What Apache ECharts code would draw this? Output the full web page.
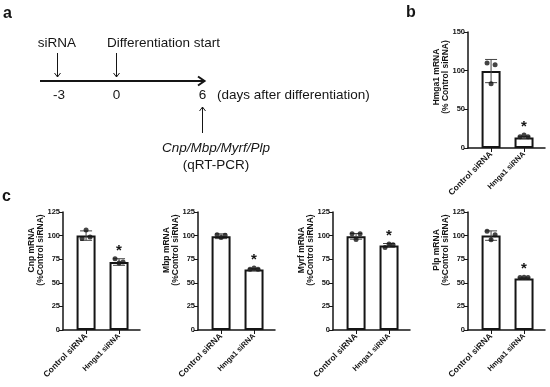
<!DOCTYPE html>
<html><head><meta charset="utf-8">
<script src="https://cdn.jsdelivr.net/npm/echarts@6/dist/echarts.min.js"></script>
<style>html,body{margin:0;padding:0;background:#fff}#chart{width:550px;height:387px}</style>
</head><body><div id="chart"></div>
<script>
// ---------- data ----------
const groups = ['Control siRNA', 'Hmga1 siRNA'];
const genes = ['Hmga1', 'Cnp', 'Mbp', 'Myrf', 'Plp'];
const yTitles = ['Hmga1 mRNA\n(% Control siRNA)', 'Cnp mRNA\n(%Control siRNA)', 'Mbp mRNA\n(%Control siRNA)', 'Myrf mRNA\n(%Control siRNA)', 'Plp mRNA\n(%Control siRNA)'];
const yTicksB = [0, 50, 100, 150];
const yTicksC = [0, 25, 50, 75, 100, 125];

const hmga1Mean = [99.5, 13.7];
const hmga1Sd = [15, 1.3];
const hmga1Dots = [[109.8, 83, 107.7], [14.5, 16.7, 14.5]];

const cnpMean = [100, 72];
const cnpSd = [5, 3.5];
const cnpDots = [[97, 106, 98.6], [75.5, 71, 72]];

const mbpMean = [99.3, 64];
const mbpSd = [2.5, 1];
const mbpDots = [[101, 98, 100.5], [64.3, 65.7, 64.3]];

const myrfMean = [99.2, 89.6];
const myrfSd = [3, 2];
const myrfDots = [[102, 96, 102], [87.5, 91, 90.4]];

const plpMean = [100, 54.6];
const plpSd = [5, 0.6];
const plpDots = [[104.6, 95.7, 101], [55.5, 56, 55.5]];

const significant = [false, true];

// ---------- layout / style ----------
const FONT = '"Liberation Sans", Arial, sans-serif';
const INK = '#151515';
const dotJitter = [-4, 0, 4];
const panels = [
  {mean: hmga1Mean, sd: hmga1Sd, dots: hmga1Dots, ticks: yTicksB, left: 468, top: 32, height: 116, titleDy: 45},
  {mean: cnpMean, sd: cnpSd, dots: cnpDots, ticks: yTicksC, left: 63, top: 212, height: 118, titleDy: 38},
  {mean: mbpMean, sd: mbpSd, dots: mbpDots, ticks: yTicksC, left: 198, top: 212, height: 118, titleDy: 38},
  {mean: myrfMean, sd: myrfSd, dots: myrfDots, ticks: yTicksC, left: 333, top: 212, height: 118, titleDy: 38},
  {mean: plpMean, sd: plpSd, dots: plpDots, ticks: yTicksC, left: 468, top: 212, height: 118, titleDy: 38}
];

const grid = [], xAxis = [], yAxis = [], series = [], graphic = [];

panels.forEach((p, i) => {
  grid.push({left: p.left, top: p.top, width: 77, height: p.height, containLabel: false});
  xAxis.push({
    gridIndex: i, type: 'value', min: -0.7, max: 1.636,
    axisLine: {show: true, onZero: false, lineStyle: {color: INK, width: 1.5}},
    axisTick: {show: true, customValues: [0, 1], length: 4, lineStyle: {color: INK, width: 1}},
    axisLabel: {show: true, customValues: [0, 1], rotate: 45, margin: 5,
      formatter: v => Math.round(v) === 0 ? '{a|' + groups[0] + '}' : '{b|' + groups[1] + '}',
      rich: {a: {fontSize: 8.5, fontWeight: 'bold', fontFamily: FONT, color: INK},
             b: {fontSize: 7.5, fontWeight: 'bold', fontFamily: FONT, color: INK}}},
    splitLine: {show: false}
  });
  const step = p.ticks[1] - p.ticks[0];
  yAxis.push({
    gridIndex: i, type: 'value', min: p.ticks[0], max: p.ticks[p.ticks.length - 1], interval: step,
    axisLine: {show: true, onZero: false, lineStyle: {color: INK, width: 1.5}},
    axisTick: {show: true, length: 4, lineStyle: {color: INK, width: 1}},
    axisLabel: {fontSize: 7.5, fontWeight: 'bold', fontFamily: FONT, color: INK, margin: 3},
    splitLine: {show: false}
  });
  series.push({
    type: 'bar', xAxisIndex: i, yAxisIndex: i, barWidth: 19, z: 2,
    itemStyle: {color: '#fff', borderColor: INK, borderWidth: 2},
    data: p.mean.map((m, k) => [k, m])
  });
  series.push({
    type: 'custom', xAxisIndex: i, yAxisIndex: i, z: 3,
    data: p.mean.map((m, k) => [k, m, p.sd[k]]),
    renderItem: function (params, api) {
      const x = api.value(0), m = api.value(1), s = api.value(2);
      const t = api.coord([x, m + s]), b = api.coord([x, m - s]);
      const hw = 6, st = {stroke: '#444', lineWidth: 1};
      return {type: 'group', children: [
        {type: 'line', shape: {x1: t[0], y1: t[1], x2: b[0], y2: b[1]}, style: st},
        {type: 'line', shape: {x1: t[0] - hw, y1: t[1], x2: t[0] + hw, y2: t[1]}, style: st},
        {type: 'line', shape: {x1: b[0] - hw, y1: b[1], x2: b[0] + hw, y2: b[1]}, style: st}
      ]};
    }
  });
  const dotData = [];
  p.dots.forEach((arr, k) => arr.forEach((v, j) => dotData.push({value: [k, v], symbolOffset: [dotJitter[j], 0]})));
  series.push({
    type: 'scatter', xAxisIndex: i, yAxisIndex: i, z: 4, symbol: 'circle', symbolSize: 5,
    itemStyle: {color: INK}, data: dotData
  });
  const starData = [];
  significant.forEach((sig, k) => { if (sig) starData.push([k, Math.max(p.mean[k] + p.sd[k], ...p.dots[k])]); });
  series.push({
    type: 'custom', xAxisIndex: i, yAxisIndex: i, z: 5, data: starData,
    renderItem: function (params, api) {
      const c = api.coord([api.value(0), api.value(1)]);
      return {type: 'text', x: c[0], y: c[1] - 8,
        style: {text: '*', font: 'bold 15px ' + FONT, fill: INK, align: 'center', verticalAlign: 'middle', textAlign: 'center', textVerticalAlign: 'middle'}};
    }
  });
  graphic.push({type: 'text', x: p.left - 27, y: p.top + p.titleDy, rotation: Math.PI / 2,
    style: {text: yTitles[i], font: 'bold 8.5px ' + FONT, lineHeight: 8.5, fill: INK,
      align: 'center', verticalAlign: 'middle', textAlign: 'center', textVerticalAlign: 'middle'}});
});

// ---------- panel a (schematic) ----------
function txt(t, x, y, font, align) {
  return {type: 'text', x: x, y: y, style: {text: t, font: font, fill: INK, align: align || 'center', verticalAlign: 'middle', textAlign: align || 'center', textVerticalAlign: 'middle'}};
}
function ln(x1, y1, x2, y2, w) {
  return {type: 'line', shape: {x1, y1, x2, y2}, style: {stroke: INK, lineWidth: w || 1}};
}
function pl(pts, w) {
  return {type: 'polyline', shape: {points: pts}, style: {stroke: INK, lineWidth: w || 1, fill: null}};
}
const F13 = '13.5px ' + FONT;
graphic.push(
  txt('a', 3, 14, 'bold 16px ' + FONT, 'left'),
  txt('b', 406, 13, 'bold 16px ' + FONT, 'left'),
  txt('c', 2, 197, 'bold 16px ' + FONT, 'left'),
  txt('siRNA', 57, 43, F13),
  txt('Differentiation start', 107, 43, F13, 'left'),
  ln(57.5, 53, 57.5, 77), pl([[54.5, 73], [57.5, 77], [60.5, 73]]),
  ln(116.5, 53, 116.5, 77), pl([[113.5, 73], [116.5, 77], [119.5, 73]]),
  ln(40, 81, 204, 81, 2.2), pl([[198, 76.5], [204.5, 81], [198, 85.5]], 2),
  txt('-3', 59, 95, F13), txt('0', 116.5, 95, F13), txt('6', 202.5, 95, F13),
  txt('(days after differentiation)', 217, 95, F13, 'left'),
  ln(202.5, 133, 202.5, 107), pl([[199.5, 111], [202.5, 107], [205.5, 111]]),
  txt('Cnp/Mbp/Myrf/Plp', 216, 148, 'italic 13.5px ' + FONT),
  txt('(qRT-PCR)', 216, 165, F13)
);

const chart = echarts.init(document.getElementById('chart'), null, {renderer: 'canvas'});
chart.setOption({animation: false, backgroundColor: '#fff', grid, xAxis, yAxis, series, graphic});
</script></body></html>
